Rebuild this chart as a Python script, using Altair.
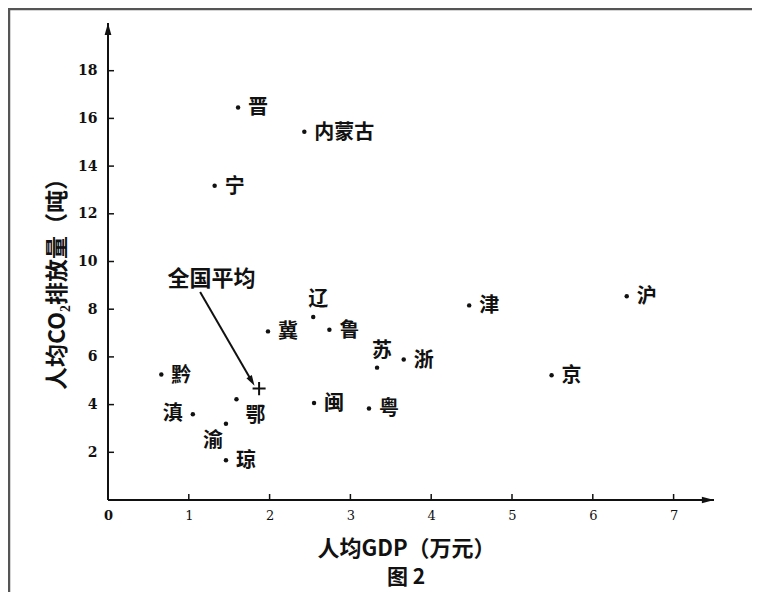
import altair as alt
import pandas as pd

# ---- data ----
provinces = ["晋", "内蒙古", "宁", "辽", "冀", "鲁", "苏", "浙", "津",
             "沪", "京", "黔", "滇", "鄂", "渝", "琼", "闽", "粤"]
gdp = [1.61, 2.43, 1.32, 2.54, 1.98, 2.74, 3.33, 3.66, 4.47,
       6.42, 5.49, 0.66, 1.05, 1.59, 1.46, 1.46, 2.55, 3.23]
co2 = [16.46, 15.44, 13.18, 7.67, 7.07, 7.14, 5.55, 5.89, 8.16,
       8.54, 5.23, 5.26, 3.60, 4.22, 3.20, 1.67, 4.07, 3.84]

avg_label = ["全国平均"]
avg_gdp = [1.87]
avg_co2 = [4.67]
avg_label_gdp = [1.28]
avg_label_co2 = [9.27]
arrow_from = [1.14, 8.72]
arrow_to = [1.78, 4.98]

x_ticks = [0, 1, 2, 3, 4, 5, 6, 7]
y_ticks = [2, 4, 6, 8, 10, 12, 14, 16, 18]
x_max = 7.5
y_max = 20

x_title = "人均GDP（万元）"
y_title = "人均CO₂排放量（吨）"
caption = "图 2"

# ---- layout ----
W, H = 606, 477
PAD = {"left": 100, "top": 15, "right": 38, "bottom": 92}
CJK = "Noto Sans CJK SC"
SERIF = "DejaVu Serif"

df = pd.DataFrame({"province": provinces, "gdp": gdp, "co2": co2})

xs = alt.Scale(domain=[0, x_max], nice=False, zero=False)
ys = alt.Scale(domain=[0, y_max], nice=False, zero=False)

x_axis = alt.Axis(
    values=x_ticks, format="d", domain=False, ticks=False, grid=False,
    labelFlush=False, labelPadding=9, labelFont=SERIF, labelFontSize=13,
    labelColor="#111",
    labelFontWeight=alt.condition("datum.value == 0", alt.value("bold"), alt.value("normal")),
    title=x_title, titleFont=CJK, titleFontSize=22, titleFontWeight="bold",
    titleColor="#111", titleX=298, titleY=48, titleAlign="center",
    titleBaseline="middle",
)
y_axis = alt.Axis(
    values=y_ticks, format="d", domain=False, ticks=False, grid=False,
    labelPadding=11, labelFont=SERIF, labelFontSize=14, labelFontWeight="bold",
    labelColor="#111",
    title=y_title, titleFont=CJK, titleFontSize=23, titleFontWeight="bold",
    titleColor="#111", titleAngle=270, titleX=-51, titleY=255,
    titleAlign="center", titleBaseline="middle",
)

X = alt.X("gdp:Q", scale=xs, axis=x_axis)
Y = alt.Y("co2:Q", scale=ys, axis=y_axis)

# axis lines
axes_df = pd.DataFrame({"gdp": [0, 0], "co2": [0, 0],
                        "gdp2": [0, x_max], "co22": [y_max, 0]})
axis_lines = alt.Chart(axes_df).mark_rule(color="#111", strokeWidth=2).encode(
    x=X, y=Y, x2="gdp2:Q", y2="co22:Q")

# tick marks
yt_df = pd.DataFrame({"gdp": [0] * len(y_ticks), "co2": y_ticks})
y_tick_marks = alt.Chart(yt_df).mark_rule(color="#111", strokeWidth=1.5, x2Offset=6).encode(
    x=X, y=Y, x2="gdp:Q")
xt_df = pd.DataFrame({"gdp": x_ticks[1:], "co2": [0] * (len(x_ticks) - 1)})
x_tick_marks = alt.Chart(xt_df).mark_rule(color="#111", strokeWidth=1.5, y2Offset=-6).encode(
    x=X, y=Y, y2="co2:Q")

# axis arrow heads
up_df = pd.DataFrame({"gdp": [0], "co2": [y_max]})
up_arrow = alt.Chart(up_df).mark_point(
    shape="M-0.55,1L0,-1L0.55,1Z", size=150, filled=True, color="#111",
    opacity=1, yOffset=6).encode(x=X, y=Y)
right_df = pd.DataFrame({"gdp": [x_max], "co2": [0]})
right_arrow = alt.Chart(right_df).mark_point(
    shape="M-1,-0.55L1,0L-1,0.55Z", size=150, filled=True, color="#111",
    opacity=1, xOffset=-6).encode(x=X, y=Y)

# points
points = alt.Chart(df).mark_circle(size=20, color="#111", opacity=1).encode(x=X, y=Y)

label_style = dict(font=CJK, fontSize=20, fontWeight="bold", color="#111", baseline="middle")
base = alt.Chart(df)
right_names = [p for p in provinces if p not in ("滇", "渝", "辽", "苏", "鄂")]
lab_right = base.transform_filter(
    alt.FieldOneOfPredicate(field="province", oneOf=right_names)
).mark_text(align="left", dx=10, dy=1, **label_style).encode(x=X, y=Y, text="province:N")
lab_left = base.transform_filter(
    alt.FieldOneOfPredicate(field="province", oneOf=["滇"])
).mark_text(align="right", dx=-10, dy=0, **label_style).encode(x=X, y=Y, text="province:N")
lab_above = base.transform_filter(
    alt.FieldOneOfPredicate(field="province", oneOf=["辽", "苏"])
).mark_text(align="center", dx=5, dy=-17, **label_style).encode(x=X, y=Y, text="province:N")
lab_below_r = base.transform_filter(
    alt.FieldOneOfPredicate(field="province", oneOf=["鄂"])
).mark_text(align="center", dx=19, dy=17, **label_style).encode(x=X, y=Y, text="province:N")
lab_below_l = base.transform_filter(
    alt.FieldOneOfPredicate(field="province", oneOf=["渝"])
).mark_text(align="center", dx=-13, dy=17, **label_style).encode(x=X, y=Y, text="province:N")

# national average
avg_df = pd.DataFrame({"gdp": avg_gdp, "co2": avg_co2})
avg_mark = alt.Chart(avg_df).mark_point(
    shape="M-1,0L1,0M0,-1L0,1", size=170, filled=False, color="#111",
    strokeWidth=2, opacity=1).encode(x=X, y=Y)

arrow_df = pd.DataFrame({"gdp": [arrow_from[0]], "co2": [arrow_from[1]],
                         "gdp2": [arrow_to[0]], "co22": [arrow_to[1]]})
arrow_line = alt.Chart(arrow_df).mark_rule(color="#111", strokeWidth=2).encode(
    x=X, y=Y, x2="gdp2:Q", y2="co22:Q")
head_df = pd.DataFrame({"gdp": [arrow_to[0]], "co2": [arrow_to[1]]})
arrow_head = alt.Chart(head_df).mark_point(
    shape="M-0.6,1L0,-1L0.6,1Z", size=110, filled=True, color="#111",
    opacity=1, angle=149).encode(x=X, y=Y)

avg_text_df = pd.DataFrame({"gdp": avg_label_gdp, "co2": avg_label_co2, "label": avg_label})
avg_text = alt.Chart(avg_text_df).mark_text(
    align="center", baseline="middle", font=CJK, fontSize=22, fontWeight="bold",
    color="#111").encode(x=X, y=Y, text="label:N")

# page frame and caption (decoration)
one = pd.DataFrame({"k": [0]})
frame_left = alt.Chart(one).mark_rule(color="#555", strokeWidth=2.5).encode(
    x=alt.value(-99), y=alt.value(-15), y2=alt.value(H + PAD["bottom"]))
frame_top = alt.Chart(one).mark_rule(color="#555", strokeWidth=2.5).encode(
    x=alt.value(-99), x2=alt.value(W + PAD["right"]), y=alt.value(-14))
cap = alt.Chart(one).mark_text(
    font=CJK, fontSize=21, fontWeight="bold", color="#111", align="center",
    baseline="middle").encode(x=alt.value(298), y=alt.value(555), text=alt.value(caption))

chart = alt.layer(
    axis_lines, y_tick_marks, x_tick_marks, up_arrow, right_arrow,
    points, lab_right, lab_left, lab_above, lab_below_r, lab_below_l,
    avg_mark, arrow_line, arrow_head, avg_text,
    frame_left, frame_top, cap,
).properties(
    width=W, height=H,
    autosize=alt.AutoSizeParams(type="none"),
    padding=PAD,
    background="white",
).configure_view(stroke=None)

chart.save("out.html", embed_options={"renderer": "svg", "actions": False})
